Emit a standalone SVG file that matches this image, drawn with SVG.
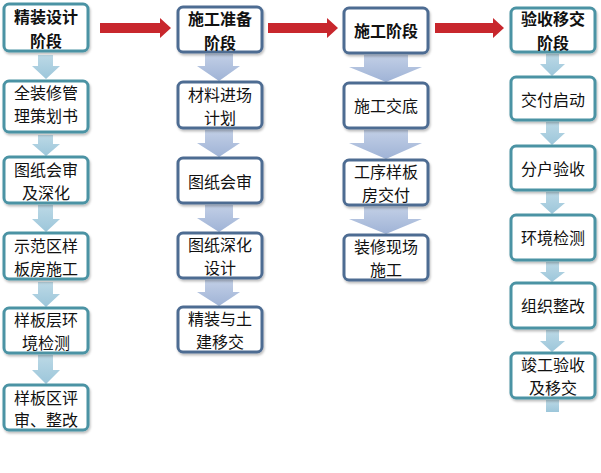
<svg xmlns="http://www.w3.org/2000/svg" width="601" height="473" viewBox="0 0 601 473">
<defs>
<filter id="sh" x="-10%" y="-10%" width="130%" height="130%">
<feDropShadow dx="1" dy="2" stdDeviation="1.2" flood-color="#000" flood-opacity="0.25"/>
</filter>
<linearGradient id="ga" x1="0" y1="0" x2="0" y2="1">
<stop offset="0" stop-color="#bcd9e6"/><stop offset="1" stop-color="#9cc6da"/>
</linearGradient>
<linearGradient id="gb" x1="0" y1="0" x2="0" y2="1">
<stop offset="0" stop-color="#c2cfe6"/><stop offset="1" stop-color="#9fb3d6"/>
</linearGradient>
</defs>
<style>
.ba{fill:#fff;stroke:#4b93a4;stroke-width:3;filter:url(#sh)}
.bb{fill:#fff;stroke:#4e6c92;stroke-width:3;filter:url(#sh)}
.t{font-family:"Noto Sans CJK SC","Noto Sans",sans-serif;font-size:16px;fill:#111;text-anchor:middle;dominant-baseline:central}
.h{font-weight:bold}
.aa{fill:url(#ga)}
.ab{fill:url(#gb)}
.r{fill:#c8272d}
</style>
<rect width="601" height="473" fill="#fff"/>
<g id="connectors">
<polygon class="r" points="100,23 160,23 160,18 171,28 160,38 160,33 100,33"/>
<polygon class="r" points="268,23 327,23 327,18 338,28 327,38 327,33 268,33"/>
<polygon class="r" points="435,23 493,23 493,18 504,28 493,38 493,33 435,33"/>
<polygon class="aa" points="38,55 53,55 53,66 60,66 46,79 32,66 38,66"/>
<polygon class="aa" points="38,135 53,135 53,144 60,144 46,156 32,144 38,144"/>
<polygon class="aa" points="38,205 53,205 53,219 60,219 46,232 32,219 38,219"/>
<polygon class="aa" points="38,282 53,282 53,294 60,294 46,307 32,294 38,294"/>
<polygon class="aa" points="38,355 53,355 53,370 60,370 46,384 32,370 38,370"/>
<polygon class="ab" points="205,54 233,54 233,66 240,66 219,81 197,66 205,66"/>
<polygon class="ab" points="205,130 233,130 233,143 240,143 219,157 197,143 205,143"/>
<polygon class="ab" points="205,205 233,205 233,218 240,218 219,232 197,218 205,218"/>
<polygon class="ab" points="205,280 233,280 233,292 240,292 219,306 197,292 205,292"/>
<polygon class="ab" points="364,55 408,55 408,67 422,67 386,82 349,67 364,67"/>
<polygon class="ab" points="364,130 408,130 408,143 422,143 386,159 349,143 364,143"/>
<polygon class="ab" points="364,207 408,207 408,219 422,219 386,234 349,219 364,219"/>
<polygon class="aa" points="546,54 559,54 559,64 565,64 552,76 540,64 546,64"/>
<polygon class="aa" points="546,122 559,122 559,133 565,133 552,145 540,133 546,133"/>
<polygon class="aa" points="546,192 559,192 559,203 565,203 552,214 540,203 546,203"/>
<polygon class="aa" points="546,262 559,262 559,272 565,272 552,282 540,272 546,272"/>
<polygon class="aa" points="546,330 559,330 559,341 565,341 552,352 540,341 546,341"/>
<polygon class="aa" points="546,400 559,400 559,412 546,412"/>
</g>
<g id="n1"><rect class="ba" x="4" y="4" width="84" height="47" rx="5"/><text class="t h" x="46" y="16">精装设计</text><text class="t h" x="46" y="40">阶段</text></g>
<g id="n2"><rect class="ba" x="4" y="81" width="84" height="51" rx="5"/><text class="t" x="46" y="92">全装修管</text><text class="t" x="46" y="115">理策划书</text></g>
<g id="n3"><rect class="ba" x="4" y="157" width="84" height="46" rx="5"/><text class="t" x="46" y="169">图纸会审</text><text class="t" x="46" y="192">及深化</text></g>
<g id="n4"><rect class="ba" x="4" y="233" width="84" height="46" rx="5"/><text class="t" x="46" y="245">示范区样</text><text class="t" x="46" y="268">板房施工</text></g>
<g id="n5"><rect class="ba" x="4" y="308" width="84" height="45" rx="5"/><text class="t" x="46" y="319">样板层环</text><text class="t" x="46" y="342">境检测</text></g>
<g id="n6"><rect class="ba" x="4" y="385" width="84" height="45" rx="5"/><text class="t" x="46" y="397">样板区评</text><text class="t" x="46" y="419">审、整改</text></g>
<g id="n7"><rect class="bb" x="178" y="7" width="84" height="45" rx="5"/><text class="t h" x="220" y="18">施工准备</text><text class="t h" x="220" y="42">阶段</text></g>
<g id="n8"><rect class="bb" x="178" y="82" width="84" height="46" rx="5"/><text class="t" x="220" y="94">材料进场</text><text class="t" x="220" y="117">计划</text></g>
<g id="n9"><rect class="bb" x="178" y="158" width="84" height="45" rx="5"/><text class="t" x="220" y="181">图纸会审</text></g>
<g id="n10"><rect class="bb" x="178" y="233" width="84" height="45" rx="5"/><text class="t" x="220" y="244">图纸深化</text><text class="t" x="220" y="267">设计</text></g>
<g id="n11"><rect class="bb" x="178" y="307" width="84" height="45" rx="5"/><text class="t" x="220" y="318">精装与土</text><text class="t" x="220" y="341">建移交</text></g>
<g id="n12"><rect class="bb" x="344" y="8" width="84" height="45" rx="5"/><text class="t h" x="386" y="30">施工阶段</text></g>
<g id="n13"><rect class="bb" x="344" y="83" width="84" height="45" rx="5"/><text class="t" x="386" y="105">施工交底</text></g>
<g id="n14"><rect class="bb" x="344" y="160" width="84" height="45" rx="5"/><text class="t" x="386" y="171">工序样板</text><text class="t" x="386" y="194">房交付</text></g>
<g id="n15"><rect class="bb" x="344" y="235" width="84" height="45" rx="5"/><text class="t" x="386" y="246">装修现场</text><text class="t" x="386" y="269">施工</text></g>
<g id="n16"><rect class="ba" x="511" y="8" width="84" height="44" rx="5"/><text class="t h" x="553" y="18">验收移交</text><text class="t h" x="553" y="42">阶段</text></g>
<g id="n17"><rect class="ba" x="511" y="77" width="84" height="43" rx="5"/><text class="t" x="553" y="99">交付启动</text></g>
<g id="n18"><rect class="ba" x="511" y="146" width="84" height="44" rx="5"/><text class="t" x="553" y="168">分户验收</text></g>
<g id="n19"><rect class="ba" x="511" y="215" width="84" height="45" rx="5"/><text class="t" x="553" y="237">环境检测</text></g>
<g id="n20"><rect class="ba" x="511" y="283" width="84" height="45" rx="5"/><text class="t" x="553" y="305">组织整改</text></g>
<g id="n21"><rect class="ba" x="511" y="353" width="84" height="45" rx="5"/><text class="t" x="553" y="364">竣工验收</text><text class="t" x="553" y="387">及移交</text></g>
</svg>
